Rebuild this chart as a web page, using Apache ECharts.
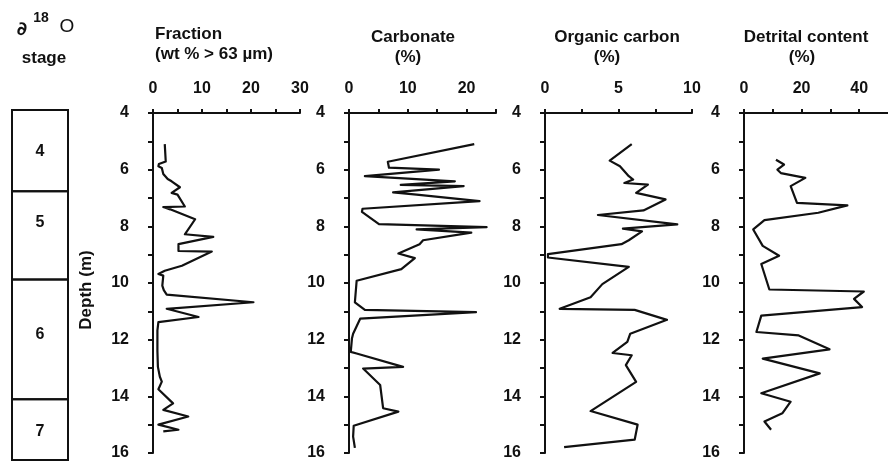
<!DOCTYPE html>
<html><head><meta charset="utf-8">
<script src="https://cdn.jsdelivr.net/npm/echarts@6/dist/echarts.min.js"></script>
<style>html,body{margin:0;padding:0;background:#fff}#c{width:888px;height:461px}</style>
</head><body><div id="c"></div>
<script>
// ---- Data (depth in m, values in %) ----
const fracDepth = [5.10,5.71,5.80,5.88,5.94,6.15,6.33,6.41,6.62,6.82,6.88,7.30,7.32,7.40,7.75,8.28,8.37,8.63,8.87,8.89,9.39,9.57,9.68,9.74,10.09,10.25,10.41,10.68,10.91,11.20,11.38,11.67,12.40,12.96,13.31,13.48,13.75,14.25,14.48,14.71,15.00,15.18,15.24];
const fracVal   = [2.4,2.6,1.2,1.1,1.8,2.1,3.0,3.8,5.5,3.8,5.0,6.5,2.1,3.5,8.6,6.5,12.3,5.2,5.2,12.0,5.9,2.4,1.1,2.1,1.9,2.2,2.8,20.5,2.8,9.3,1.1,0.9,0.9,1.0,1.4,1.8,1.1,4.1,2.1,7.2,1.1,5.2,2.1];

const carbDepth = [5.10,5.72,5.93,6.00,6.23,6.41,6.54,6.58,6.80,6.88,7.11,7.38,7.49,7.92,8.03,8.11,8.22,8.49,8.63,8.96,9.12,9.51,9.92,10.68,10.95,11.03,11.26,11.79,11.96,12.43,12.49,12.96,13.02,13.60,14.42,14.54,15.04,15.42,15.82];
const carbVal   = [21.3,6.6,6.8,15.3,2.7,18.0,8.8,19.5,7.5,11.5,22.2,2.3,2.2,5.1,23.4,11.5,20.8,12.6,12.0,8.4,11.2,8.9,1.3,1.0,2.7,21.6,1.9,0.7,0.5,0.3,1.3,9.2,2.4,5.3,5.8,8.4,0.8,0.7,1.0];

const orgDepth = [5.10,5.68,5.88,6.23,6.35,6.47,6.53,6.82,7.05,7.44,7.60,7.93,8.08,8.18,8.49,8.63,8.98,9.10,9.43,10.04,10.50,10.91,10.95,11.30,11.79,12.08,12.47,12.55,12.90,13.49,14.52,15.00,15.53,15.79];
const orgVal   = [5.9,4.4,5.1,5.7,6.0,5.4,7.0,6.2,8.2,6.7,3.6,9.0,5.3,6.6,5.7,5.2,0.2,0.2,5.7,3.9,3.1,1.0,6.1,8.3,5.8,5.6,4.6,5.9,5.5,6.2,3.1,6.3,6.1,1.3];

const detDepth = [5.65,5.82,6.00,6.12,6.29,6.58,7.17,7.26,7.52,7.78,8.11,8.69,9.04,9.33,10.23,10.30,10.56,10.85,11.15,11.73,11.85,12.34,12.67,13.19,13.89,14.19,14.60,14.89,15.18];
const detVal   = [11.1,13.9,11.6,12.8,21.3,16.2,18.4,35.9,25.8,7.1,3.2,6.5,12.2,6.0,8.8,41.6,38.2,41.0,6.0,4.3,19.0,29.7,6.5,26.3,6.0,16.2,13.3,7.1,9.4];

// δ18O stages
const stageNames  = ['4','5','6','7'];
const stageTop    = [3.90,6.75,9.85,14.05];
const stageBottom = [6.75,9.85,14.05,16.18];
const stageLabelDepth = [5.37,7.86,11.79,15.19];

// axis ranges / tick labels
const depthMin = 4, depthMax = 16;
const xMax = [30,25,10,50];
const xStep = [5,5,2.5,10];
const xLabelEvery = [10,10,5,20];
const titles = [['Fraction','(wt % > 63 µm)'],['Carbonate','(%)'],['Organic carbon','(%)'],['Detrital content','(%)']];

// ---- Layout ----
const FONT = '"Liberation Sans", Arial, Helvetica, sans-serif';
const INK = '#111';
const gridLefts = [153,349,545,744];
const gridW = [147,147,147,147.5];
const TOP = 113, H = 342;

const grids = gridLefts.map((l,i)=>({left:l, top:TOP, width:gridW[i], height:H}));
grids.push({left:12, top:110, width:56, height:350});

const xAxes = xMax.map((m,i)=>({
  gridIndex:i, type:'value', position:'top', min:0, max:m, interval:xStep[i],
  axisLine:{show:true, onZero:false, lineStyle:{color:INK, width:2}},
  axisTick:{show:true, inside:false, length:4, lineStyle:{color:INK, width:2}},
  splitLine:{show:false},
  axisLabel:{show:true, margin:16, color:INK, fontFamily:FONT, fontWeight:'bold', fontSize:16,
    showMaxLabel:m!==50,
    formatter:(v)=> (Math.abs(v % xLabelEvery[i])<1e-6 && v<50) ? String(v) : ''}
}));
xAxes.push({gridIndex:4, type:'value', min:0, max:1, show:false});

const yAxes = xMax.map((m,i)=>({
  gridIndex:i, type:'value', inverse:true, min:depthMin, max:depthMax, interval:1,
  position:'left',
  axisLine:{show:true, onZero:false, lineStyle:{color:INK, width:2}},
  axisTick:{show:true, inside:false, length:5, lineStyle:{color:INK, width:2}},
  splitLine:{show:false},
  axisLabel:{show:true, margin:24, color:INK, fontFamily:FONT, fontWeight:'bold', fontSize:16,
    formatter:(v)=> v%2===0 ? String(v) : ''}
}));
yAxes.push({gridIndex:4, type:'value', inverse:true, min:3.9, max:16.18, show:false});

const profiles = [[fracDepth,fracVal],[carbDepth,carbVal],[orgDepth,orgVal],[detDepth,detVal]];
const series = profiles.map((p,i)=>({
  type:'line', xAxisIndex:i, yAxisIndex:i, showSymbol:false, symbol:'none',
  animation:false, silent:true,
  lineStyle:{color:INK, width:2.2, join:'round'},
  data:p[0].map((d,k)=>[p[1][k], d])
}));
series.push({
  type:'custom', xAxisIndex:4, yAxisIndex:4, animation:false, silent:true,
  data: stageNames.map((n,i)=>[stageTop[i], stageBottom[i], stageLabelDepth[i]]),
  renderItem:(params, api)=>{
    const a = api.coord([0, api.value(0)]);
    const b = api.coord([1, api.value(1)]);
    const c = api.coord([0.5, api.value(2)]);
    return {type:'group', children:[
      {type:'rect', shape:{x:a[0], y:a[1], width:b[0]-a[0], height:b[1]-a[1]},
       style:{fill:'none', stroke:INK, lineWidth:2}},
      {type:'text', x:c[0], y:c[1],
       style:{text:stageNames[params.dataIndex], fill:INK, font:'bold 16px '+FONT, align:'center', verticalAlign:'middle'}}
    ]};
  }
});

const titleCenters = [[null,null],[413,408],[617,607],[806,802]];
const graphics = [];
titles.forEach((t,i)=>{
  if(i===0){
    graphics.push({type:'text', left:155, top:26, style:{text:t[0], fill:INK, font:'bold 17px '+FONT}});
    graphics.push({type:'text', left:155, top:46, style:{text:t[1], fill:INK, font:'bold 17px '+FONT}});
  } else {
    graphics.push({type:'text', x:titleCenters[i][0], y:37, style:{text:t[0], fill:INK, font:'bold 17px '+FONT, align:'center', verticalAlign:'middle'}});
    graphics.push({type:'text', x:titleCenters[i][1], y:57, style:{text:t[1], fill:INK, font:'bold 17px '+FONT, align:'center', verticalAlign:'middle'}});
  }
});
graphics.push({type:'text', x:22, y:30, style:{text:'∂', fill:INK, font:'bold 19px "DejaVu Sans", '+FONT, align:'center', verticalAlign:'middle'}});
graphics.push({type:'text', x:41, y:18, style:{text:'18', fill:INK, font:'bold 14px '+FONT, align:'center', verticalAlign:'middle'}});
graphics.push({type:'text', x:67, y:27, style:{text:'O', fill:INK, font:'19px '+FONT, align:'center', verticalAlign:'middle'}});
graphics.push({type:'text', x:44, y:58, style:{text:'stage', fill:INK, font:'bold 17px '+FONT, align:'center', verticalAlign:'middle'}});
graphics.push({type:'text', x:86, y:290, rotation:Math.PI/2, style:{text:'Depth (m)', fill:INK, font:'bold 17px '+FONT, align:'center', verticalAlign:'middle'}});

const chart = echarts.init(document.getElementById('c'), null, {renderer:'canvas'});
chart.setOption({
  backgroundColor:'#fff', animation:false,
  grid:grids, xAxis:xAxes, yAxis:yAxes, series:series, graphic:graphics
});
</script></body></html>
